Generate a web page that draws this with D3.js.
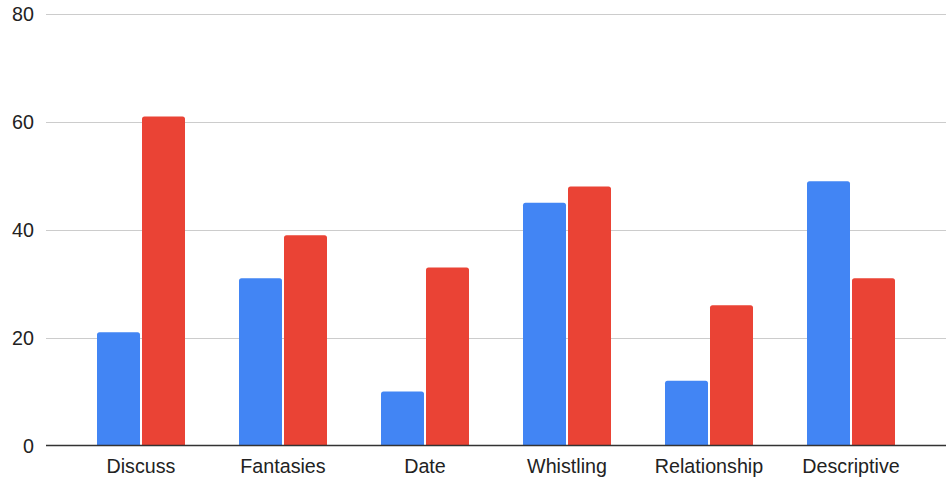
<!DOCTYPE html>
<html>
<head>
<meta charset="utf-8">
<script src="https://cdn.jsdelivr.net/npm/d3@7"></script>
<style>
  html, body { margin: 0; padding: 0; background: #fff; }
  svg text { font-family: "Liberation Sans", Arial, sans-serif; fill: #222; }
</style>
</head>
<body>
<svg id="chart" width="948" height="487"></svg>
<script>
// Category labels and the two series values
const categories = ["Discuss", "Fantasies", "Date", "Whistling", "Relationship", "Descriptive"];
const seriesA = [21, 31, 10, 45, 12, 49];
const seriesB = [61, 39, 33, 48, 26, 31];
const yTicks = [0, 20, 40, 60, 80];
const colors = ["#4285F4", "#EA4335"];

const svg = d3.select("#chart");
const gridLeft = 46, gridRight = 946;
const plotTop = 14, plotBottom = 445.5;
const fontSize = 19.7;

const x = d3.scaleBand().domain(categories).range([70, 922]).paddingInner(0).paddingOuter(0);
const y = d3.scaleLinear().domain([0, 80]).range([plotBottom, plotTop]);

// Horizontal gridlines
svg.append("g").selectAll("line").data(yTicks.filter(t => t !== 0)).join("line")
  .attr("x1", gridLeft).attr("x2", gridRight)
  .attr("y1", d => Math.round(y(d)) + 0.5).attr("y2", d => Math.round(y(d)) + 0.5)
  .attr("stroke", "#cccccc").attr("stroke-width", 1);

// Y tick labels
svg.append("g").selectAll("text").data(yTicks).join("text")
  .attr("x", 34).attr("y", d => y(d))
  .attr("dy", "0.36em")
  .attr("text-anchor", "end")
  .attr("font-size", fontSize)
  .text(d => d);

// Bars with slightly rounded top corners
const barW = 43, gap = 2;
const rows = categories.map((c, i) => [
  { c, k: 0, v: seriesA[i] },
  { c, k: 1, v: seriesB[i] }
]).flat();

function topRounded(x0, y0, w, h, r) {
  r = Math.min(r, h);
  return `M${x0},${y0 + h}V${y0 + r}Q${x0},${y0} ${x0 + r},${y0}H${x0 + w - r}Q${x0 + w},${y0} ${x0 + w},${y0 + r}V${y0 + h}Z`;
}

svg.append("g").selectAll("path").data(rows).join("path")
  .attr("d", d => {
    const cx = x(d.c) + x.bandwidth() / 2;
    const x0 = d.k === 0 ? cx - gap / 2 - barW : cx + gap / 2;
    const y0 = y(d.v);
    return topRounded(x0, y0, barW, plotBottom - y0, 2.5);
  })
  .attr("fill", d => colors[d.k]);

// Baseline
svg.append("line")
  .attr("x1", gridLeft).attr("x2", gridRight)
  .attr("y1", plotBottom).attr("y2", plotBottom)
  .attr("stroke", "#333333").attr("stroke-width", 1.5);

// X axis labels
svg.append("g").selectAll("text").data(categories).join("text")
  .attr("x", d => x(d) + x.bandwidth() / 2)
  .attr("y", 472.5)
  .attr("text-anchor", "middle")
  .attr("font-size", fontSize)
  .text(d => d);
</script>
</body>
</html>
